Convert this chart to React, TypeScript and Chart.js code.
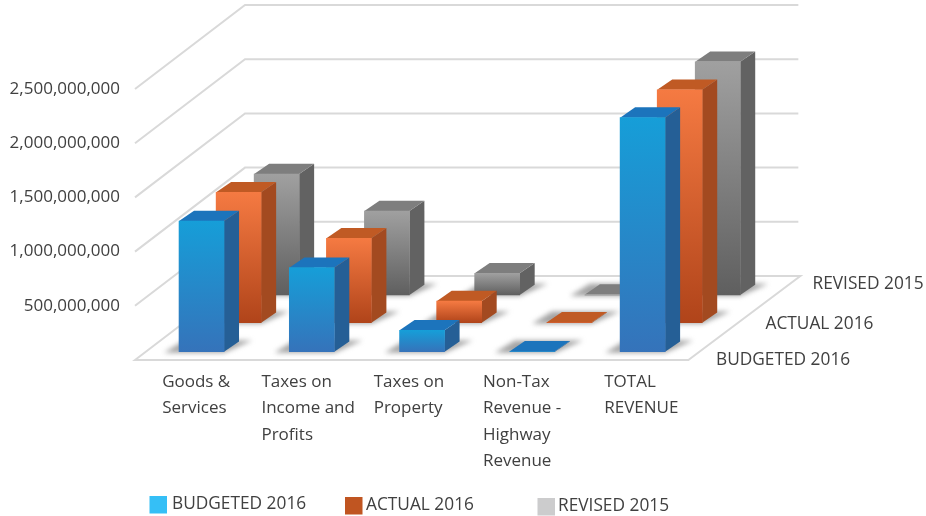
import React, { useEffect, useRef } from "react";
import { Chart, registerables } from "chart.js";

Chart.register(...registerables);

const categories = [
  ["Goods &", "Services"],
  ["Taxes on", "Income and", "Profits"],
  ["Taxes on", "Property"],
  ["Non-Tax", "Revenue -", "Highway", "Revenue"],
  ["TOTAL", "REVENUE"],
];
const budgeted2016 = [1206000000, 775000000, 197000000, 4000000, 2159000000];
const actual2016 = [1203000000, 779000000, 199000000, 4000000, 2149000000];
const revised2015 = [1116000000, 775000000, 200000000, 4000000, 2152000000];
const seriesNames = ["BUDGETED 2016", "ACTUAL 2016", "REVISED 2015"];

const FONT = '"Open Sans", "Noto Sans", sans-serif';
const TEXT = "#404040";
const GRID = "#d9d9d9";
const labelShift = [-28, -39, -37, -38, -27];

const styles = [
  { top: "#169ed8", bottom: "#3573ba", side: "#255f96", cap: "#1c74bc", swatch: "#35bff6" },
  { top: "#f57a42", bottom: "#b0441a", side: "#a34a20", cap: "#c05a24", swatch: "#c05521" },
  { top: "#a0a0a0", bottom: "#5f5f5f", side: "#626262", cap: "#7e7e7e", swatch: "#cccccd" },
];
const seriesOffset = [
  { dx: 11.4, dy: -8.3 },
  { dx: 48.5, dy: -37.3 },
  { dx: 86.5, dy: -65 },
];
const depthLabels = [
  { x: 716, y: 360 },
  { x: 765.5, y: 324.5 },
  { x: 812.5, y: 284.5 },
];
const legendSpots = [
  { box: 149.5, text: 172, y: 496 },
  { box: 345, text: 366, y: 497 },
  { box: 537.5, text: 558, y: 498 },
];
const WALL_DX = 110;
const WALL_DY = -84;
const BAR_DX = 15;
const BAR_DY = -10.3;

const poly = (ctx: CanvasRenderingContext2D, pts: number[][], fill: string) => {
  ctx.beginPath();
  pts.forEach((p, i) => (i ? ctx.lineTo(p[0], p[1]) : ctx.moveTo(p[0], p[1])));
  ctx.closePath();
  ctx.fillStyle = fill;
  ctx.fill();
};

const scene = {
  id: "scene",
  beforeDraw(chart: any) {
    chart.scales.x.getLabelItems().forEach((item: any, i: number) => {
      if (item.shifted) return;
      item.shifted = true;
      item.options.translation[0] += labelShift[i];
    });
  },
  beforeDatasetsDraw(chart: any) {
    const { ctx, scales } = chart;
    const y = scales.y;
    const left = chart.chartArea.left;
    const right = chart.chartArea.right + 2;
    ctx.save();
    ctx.strokeStyle = GRID;
    ctx.lineWidth = 2;
    ctx.lineJoin = "miter";
    y.ticks.forEach((t: any) => {
      const py = y.getPixelForValue(t.value);
      ctx.beginPath();
      ctx.moveTo(left, py);
      ctx.lineTo(left + WALL_DX, py + WALL_DY);
      if (t.value === 0) {
        ctx.lineTo(right + WALL_DX + 2, py + WALL_DY);
        ctx.lineTo(right, py);
        ctx.closePath();
      } else {
        ctx.lineTo(right + WALL_DX, py + WALL_DY);
      }
      ctx.stroke();
    });
    ctx.restore();
  },
  beforeDatasetDraw(chart: any, args: any) {
    const { ctx } = chart;
    const i = args.index;
    const off = seriesOffset[i];
    const st = styles[i];
    ctx.save();
    ctx.translate(off.dx, off.dy);
    args.meta.data.forEach((el: any) => {
      const l = el.x - el.width / 2;
      const r = el.x + el.width / 2;
      const b = el.base;
      ctx.save();
      ctx.filter = "blur(2.5px)";
      poly(
        ctx,
        [
          [l - 15, b + 1],
          [r, b + 1],
          [r + BAR_DX + 13, b + BAR_DY - 1],
          [l + 5, b + BAR_DY - 1],
        ],
        "rgba(125,125,125,0.7)"
      );
      ctx.restore();
    });
    args.meta.data.forEach((el: any) => {
      const r = el.x + el.width / 2;
      const l = el.x - el.width / 2;
      const t = el.y;
      const b = el.base;
      poly(ctx, [[r, t], [r + BAR_DX, t + BAR_DY], [r + BAR_DX, b + BAR_DY], [r, b]], st.side);
      poly(ctx, [[l, t], [l + BAR_DX, t + BAR_DY], [r + BAR_DX, t + BAR_DY], [r, t]], st.cap);
    });
  },
  afterDatasetDraw(chart: any) {
    chart.ctx.restore();
  },
  afterDraw(chart: any) {
    const { ctx } = chart;
    ctx.save();
    ctx.font = `17.3px ${FONT}`;
    ctx.textBaseline = "middle";
    ctx.textAlign = "left";
    seriesNames.forEach((name, i) => {
      ctx.fillStyle = TEXT;
      ctx.fillText(name, depthLabels[i].x, depthLabels[i].y);
      const spot = legendSpots[i];
      ctx.fillStyle = styles[i].swatch;
      ctx.fillRect(spot.box, spot.y, 17.5, 17.5);
      ctx.fillStyle = TEXT;
      ctx.fillText(name, spot.text, spot.y + 8);
    });
    ctx.restore();
  },
};

const makeDataset = (label: string, data: number[], i: number) => ({
  label,
  data,
  grouped: false,
  barThickness: 45,
  borderWidth: 0,
  clip: false,
  backgroundColor: (c: any) => {
    const s = styles[i];
    const y = c.chart.scales?.y;
    if (!y || c.raw === undefined) return s.top;
    const top = y.getPixelForValue(c.raw);
    const bottom = y.getPixelForValue(0);
    if (!Number.isFinite(top) || !Number.isFinite(bottom)) return s.top;
    const g = c.chart.ctx.createLinearGradient(0, top, 0, bottom);
    g.addColorStop(0, s.top);
    g.addColorStop(1, s.bottom);
    return g;
  },
});

export default function App() {
  const ref = useRef<HTMLCanvasElement>(null);
  useEffect(() => {
    document.body.style.margin = "0";
    const chart = new Chart(ref.current as HTMLCanvasElement, {
      type: "bar",
      data: {
        labels: categories as any,
        datasets: [
          makeDataset(seriesNames[0], budgeted2016, 0),
          makeDataset(seriesNames[1], actual2016, 1),
          makeDataset(seriesNames[2], revised2015, 2),
        ],
      },
      plugins: [scene],
      options: {
        animation: false,
        responsive: false,
        layout: { padding: { top: 89, right: 239.65, left: 0, bottom: 0 } },
        plugins: { legend: { display: false }, tooltip: { enabled: false }, title: { display: false } },
        scales: {
          x: {
            grid: { display: false, drawTicks: false },
            border: { display: false },
            afterFit: (s: any) => {
              s.height = 156;
            },
            ticks: {
              autoSkip: false,
              maxRotation: 0,
              minRotation: 0,
              align: "start",
              padding: 9,
              color: TEXT,
              font: { family: FONT, size: 17, lineHeight: 1.55 },
            },
          },
          y: {
            min: 0,
            max: 2500000000,
            grid: { display: false, drawTicks: false },
            border: { display: false },
            afterFit: (s: any) => {
              s.width = 135;
            },
            ticks: {
              stepSize: 500000000,
              padding: 15,
              color: TEXT,
              font: { family: FONT, size: 17 },
              callback: (v: any) => (v === 0 ? "" : Number(v).toLocaleString("en-US")),
            },
          },
        },
      } as any,
    });
    return () => chart.destroy();
  }, []);
  return <canvas ref={ref} width={926} height={516} style={{ display: "block", width: 926, height: 516 }} />;
}
